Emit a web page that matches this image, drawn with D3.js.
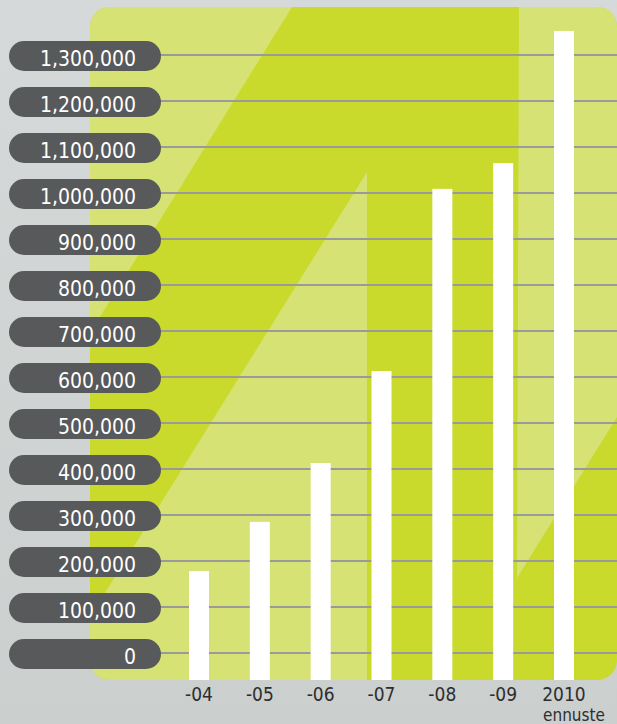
<!DOCTYPE html>
<html>
<head>
<meta charset="utf-8">
<title>Bar chart</title>
<script src="https://cdn.jsdelivr.net/npm/d3@7/dist/d3.min.js"></script>
<style>
	body { margin: 0; background: #d1d5d4; }
	#chart-area { width: 617px; height: 724px; }
	.pill-label { font-family: "DejaVu Sans Condensed", "DejaVu Sans", sans-serif; font-size: 21px; fill: #ffffff; }
	.year-label { font-family: "DejaVu Sans Condensed", "DejaVu Sans", sans-serif; font-size: 19px; fill: #2e2e2e; }
	.note-label { font-family: "DejaVu Sans Condensed", "DejaVu Sans", sans-serif; font-size: 17px; fill: #2e2e2e; }
</style>
</head>
<body>
<div id="chart-area"></div>
<script>

// data
const years = ["-04", "-05", "-06", "-07", "-08", "-09", "2010"];
const values = [178000, 285000, 413000, 613000, 1009000, 1065000, 1352000];
const yTicks = [0, 100000, 200000, 300000, 400000, 500000, 600000, 700000, 800000, 900000, 1000000, 1100000, 1200000, 1300000];
const forecastYear = "2010";
const forecastNote = "ennuste";


class BarVis {

	constructor(parentElement, years, values) {
		this.parentElement = parentElement;
		this.years = years;
		this.values = values;
		this.displayData = null;

		this.initVis();
	}

	/*
	 *  Initialize vis
	 */
	initVis () {
		let vis = this;

		vis.width = 617;
		vis.height = 724;

		vis.svg = d3.select("#" + vis.parentElement).append("svg")
			.attr("width", vis.width)
			.attr("height", vis.height);

		let defs = vis.svg.append("defs");

		let bg = defs.append("linearGradient")
			.attr("id", "bg-grad")
			.attr("x1", 0).attr("y1", 0).attr("x2", 0).attr("y2", 1);
		bg.append("stop").attr("offset", "0%").attr("stop-color", "#d5d9d9");
		bg.append("stop").attr("offset", "100%").attr("stop-color", "#cbcfce");

		vis.svg.append("rect")
			.attr("width", vis.width)
			.attr("height", vis.height)
			.attr("fill", "url(#bg-grad)");

		// green panel behind the bars
		vis.panel = { x: 90, y: 7, w: 527, h: 673, r: 20 };
		let p = vis.panel;

		defs.append("clipPath")
			.attr("id", "panel-clip")
			.append("rect")
			.attr("x", p.x).attr("y", p.y)
			.attr("width", p.w).attr("height", p.h)
			.attr("rx", p.r);

		let panelG = vis.svg.append("g").attr("clip-path", "url(#panel-clip)");

		panelG.append("rect")
			.attr("x", p.x).attr("y", p.y)
			.attr("width", p.w).attr("height", p.h)
			.attr("fill", "#c9da2c");

		// lighter diagonal shapes (slope roughly -0.62 px/px)
		let bottom = p.y + p.h, right = p.x + p.w;
		let shapes = [
			[[p.x, p.y], [292, p.y], [p.x, 333]],
			[[367, 172], [367, bottom], [p.x, bottom], [p.x, 617]],
			[[519, p.y], [right, p.y], [right, 417], [517, 578]]
		];

		panelG.selectAll(".light-shape")
			.data(shapes)
			.enter()
			.append("polygon")
			.attr("class", "light-shape")
			.attr("points", d => d.map(pt => pt.join(",")).join(" "))
			.attr("fill", "#d7e275");

		vis.y = d3.scaleLinear()
			.domain([0, 1300000])
			.range([653, 55]);

		vis.x = d3.scaleBand()
			.domain(vis.years)
			.range([189, 574])
			.paddingInner(0.671)
			.paddingOuter(0);

		vis.gridG = vis.svg.append("g").attr("class", "grid");
		vis.barG = vis.svg.append("g").attr("class", "bars");
		vis.pillG = vis.svg.append("g").attr("class", "pills");
		vis.xLabelG = vis.svg.append("g").attr("class", "x-labels");

		vis.wrangleData();
	}

	/*
	 *  Data wrangling
	 */
	wrangleData () {
		let vis = this;

		vis.displayData = vis.years.map((yr, i) => ({ year: yr, value: vis.values[i] }));

		vis.updateVis();
	}

	updateVis () {
		let vis = this;
		let fmt = d3.format(",");
		let panelBottom = vis.panel.y + vis.panel.h;
		let panelRight = vis.panel.x + vis.panel.w;

		// horizontal grid lines
		vis.gridG.selectAll("line")
			.data(yTicks)
			.enter()
			.append("line")
			.attr("x1", 150)
			.attr("x2", panelRight)
			.attr("y1", d => vis.y(d))
			.attr("y2", d => vis.y(d))
			.attr("stroke", "#9a9a9a")
			.attr("stroke-width", 2);

		// white bars, running down to the panel bottom
		vis.barG.selectAll("rect")
			.data(vis.displayData)
			.enter()
			.append("rect")
			.attr("x", d => vis.x(d.year))
			.attr("width", vis.x.bandwidth())
			.attr("y", d => vis.y(d.value))
			.attr("height", d => panelBottom - vis.y(d.value))
			.attr("fill", "#ffffff");

		// pill shaped tick labels
		let pills = vis.pillG.selectAll("g")
			.data(yTicks)
			.enter()
			.append("g")
			.attr("transform", d => `translate(0,${vis.y(d)})`);

		pills.append("rect")
			.attr("x", 9)
			.attr("y", -14)
			.attr("width", 152)
			.attr("height", 30)
			.attr("rx", 15)
			.attr("fill", "#58595b");

		pills.append("text")
			.attr("class", "pill-label")
			.attr("x", 136)
			.attr("y", 11)
			.attr("text-anchor", "end")
			.text(d => fmt(d));

		// year labels under the bars
		vis.xLabelG.selectAll("text")
			.data(vis.years)
			.enter()
			.append("text")
			.attr("class", "year-label")
			.attr("x", d => vis.x(d) + vis.x.bandwidth() / 2)
			.attr("y", 701)
			.attr("text-anchor", "middle")
			.text(d => d);

		vis.xLabelG.append("text")
			.attr("class", "note-label")
			.attr("x", vis.x(forecastYear) + vis.x.bandwidth() / 2 + 10)
			.attr("y", 721)
			.attr("text-anchor", "middle")
			.text(forecastNote);
	}
}

let barVis = new BarVis("chart-area", years, values);

</script>
</body>
</html>
